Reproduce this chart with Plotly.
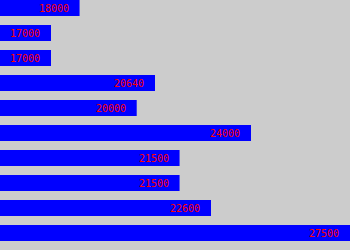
import plotly.graph_objects as go

values = [18000, 17000, 17000, 20640, 20000, 24000, 21500, 21500, 22600, 27500]
labels = ["18000", "17000", "17000", "20640", "20000", "24000", "21500", "21500", "22600", "27500"]
positions = list(range(len(values)))

fig = go.Figure()
fig.add_trace(go.Bar(
    x=values, y=positions, orientation="h",
    marker=dict(color="#0000ff", line=dict(width=0)),
    base=0, hoverinfo="skip",
))
for v, lab, p in zip(values, labels, positions):
    fig.add_annotation(
        x=min(v, 27465), y=p, text=lab, showarrow=False,
        xanchor="right", yanchor="middle", xshift=-9,
        font=dict(family="DejaVu Sans Mono", size=10, color="#ff0000"),
    )

fig.update_layout(
    width=350, height=250,
    margin=dict(l=0, r=0, t=0, b=0, pad=0),
    paper_bgcolor="#cccccc", plot_bgcolor="#cccccc",
    bargap=0.36, showlegend=False,
    xaxis=dict(range=[15215, 27465], visible=False, fixedrange=True),
    yaxis=dict(range=[9.68, -0.32], visible=False, fixedrange=True),
)
fig.write_html("out.html")
